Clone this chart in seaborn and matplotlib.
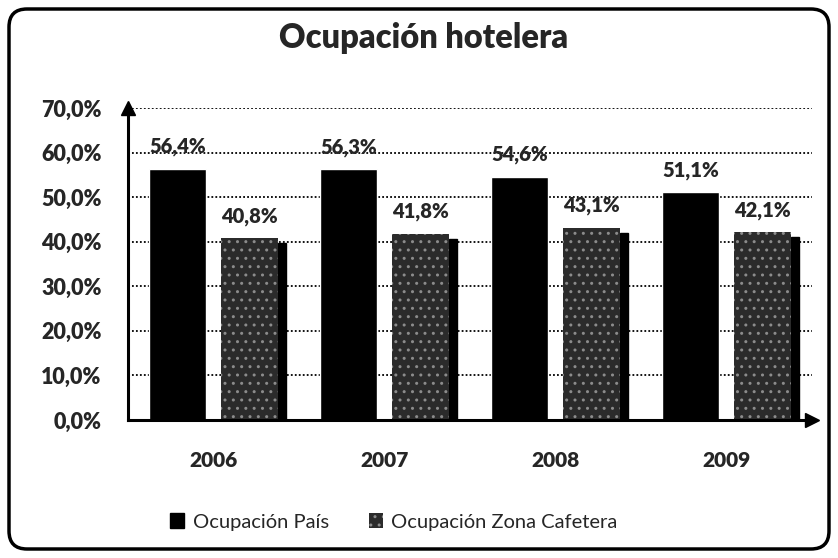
import matplotlib
matplotlib.use('Agg')
import matplotlib.pyplot as plt
from matplotlib.patches import FancyBboxPatch, Rectangle, Patch
import pandas as pd
import seaborn as sns

# datos
anios = ['2006', '2007', '2008', '2009']
ocup_pais = [56.4, 56.3, 54.6, 51.1]
ocup_zona = [40.8, 41.8, 43.1, 42.1]
series = ['Ocupación País', 'Ocupación Zona Cafetera']
y_ticks = [0, 10, 20, 30, 40, 50, 60, 70]

df = pd.DataFrame({
    'anio': anios * 2,
    'valor': ocup_pais + ocup_zona,
    'serie': [series[0]] * 4 + [series[1]] * 4,
})

sns.set_style('white')
plt.rcParams['font.family'] = ['Lato', 'DejaVu Sans']
plt.rcParams['hatch.linewidth'] = 1.0

gris = '#2b2b2b'
fig = plt.figure(figsize=(8.38, 5.58), dpi=100)
ax = fig.add_axes([128 / 838, 1 - 420 / 558, 684 / 838, 312 / 558])

colores = {series[0]: '#000000', series[1]: gris}
sns.barplot(data=df, x='anio', y='valor', hue='serie', palette=colores,
            width=0.84, gap=0.21, saturation=1, ax=ax, legend=False)

# textura y sombra de las barras grises
for p in ax.containers[1]:
    p.set_hatch('..')
    p.set_edgecolor('#8c8c8c')
    p.set_linewidth(0)
    ax.add_patch(Rectangle((p.get_x() + p.get_width(), 0), 0.047,
                           p.get_height() - 1.1, color='black', zorder=p.get_zorder() - 0.1))

# etiquetas de datos
for cont, vals in zip(ax.containers, [ocup_pais, ocup_zona]):
    ax.bar_label(cont, labels=[f'{v:.1f}%'.replace('.', ',') for v in vals],
                 padding=9, fontsize=14.5, fontweight='heavy')

ax.set_ylim(0, 70)
ax.set_xlim(-0.5, 3.5)
ax.set_yticks(y_ticks)
ax.set_yticklabels([f'{v:.1f}%'.replace('.', ',') for v in y_ticks],
                   fontsize=15.5, fontweight='heavy')
ax.set_xticks(range(len(anios)))
ax.set_xticklabels(anios, fontsize=15, fontweight='heavy')
ax.tick_params(axis='y', length=0, pad=19)
ax.tick_params(axis='x', length=0, pad=22)
ax.set_xlabel('')
ax.set_ylabel('')

ax.grid(axis='y', color='black', linestyle=(0, (1, 1.2)), linewidth=1.3)
ax.set_axisbelow(True)
for s in ['top', 'right']:
    ax.spines[s].set_visible(False)
for s in ['left', 'bottom']:
    ax.spines[s].set_color('black')
    ax.spines[s].set_linewidth(2.2)
    ax.spines[s].set_zorder(5)
ax.plot(1, 0, '>k', markersize=10, transform=ax.transAxes, clip_on=False, zorder=6)
ax.plot(0, 1, '^k', markersize=10, transform=ax.transAxes, clip_on=False, zorder=6)

fig.suptitle('Ocupación hotelera', fontsize=23.5, fontweight='heavy', x=0.505, y=0.96)

handles = [Patch(facecolor='black', edgecolor='black'),
           Patch(facecolor=gris, edgecolor='#8c8c8c', hatch='..', linewidth=0)]
fig.legend(handles, series, loc='center', bbox_to_anchor=(0.47, 1 - 522 / 558),
           ncol=2, frameon=False, fontsize=14.5, handlelength=0.7, handleheight=0.7,
           handletextpad=0.4, columnspacing=2.0)

# marco redondeado
fig.patches.append(FancyBboxPatch((9, 9), 820, 540, boxstyle='round,pad=0,rounding_size=18',
                                  transform=None, facecolor='none', edgecolor='black',
                                  linewidth=2.5))

plt.savefig('out.png', dpi=100)
plt.close()
